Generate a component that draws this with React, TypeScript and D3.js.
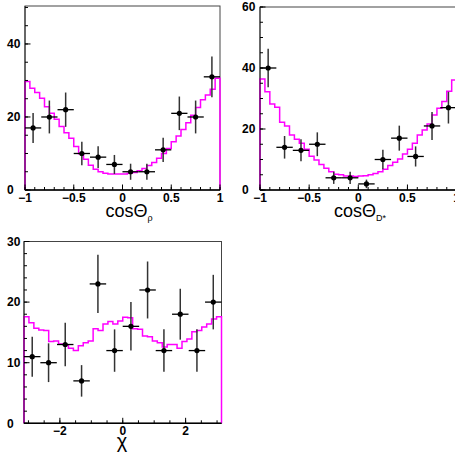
import React from "react";
import * as d3 from "d3";

// ---------- data ----------
const rhoCenters = [-0.917, -0.75, -0.583, -0.417, -0.25, -0.083, 0.083, 0.25, 0.417, 0.583, 0.75, 0.917];
const rhoValues = [17, 20, 22, 10, 9, 7, 5, 5, 11, 21, 20, 31];
const rhoErrors = [4.1, 4.5, 4.7, 3.2, 3.0, 2.6, 2.2, 2.2, 3.3, 4.6, 4.5, 5.6];
const rhoHist = [
  29.7, 27.9, 26.7, 25.1, 22.8, 21.0, 19.4, 17.4, 15.7, 14.2,
  11.9, 9.9, 8.4, 6.8, 5.7, 5.0, 4.6, 4.4, 4.4, 4.4,
  4.4, 4.6, 4.8, 5.3, 5.9, 6.7, 7.5, 8.7, 10.0, 11.4,
  13.2, 14.8, 16.6, 18.4, 20.5, 22.6, 24.7, 26.0, 27.6, 30.6,
];

const dstCenters = [-0.917, -0.75, -0.583, -0.417, -0.25, -0.083, 0.083, 0.25, 0.417, 0.583, 0.75, 0.917];
const dstValues = [40, 14, 13, 15, 4, 4, 2, 10, 17, 11, 21, 27];
const dstErrors = [6.3, 3.7, 3.6, 3.9, 2.0, 2.0, 1.4, 3.2, 4.1, 3.3, 4.6, 5.2];
const dstHist = [
  36.4, 32.2, 28.2, 27.1, 22.2, 21.0, 18.0, 16.6, 15.3, 13.4,
  11.1, 9.8, 8.4, 7.1, 6.0, 5.2, 5.0, 4.6, 4.6, 4.4,
  4.6, 4.7, 5.0, 5.4, 6.0, 6.8, 8.0, 9.1, 10.2, 11.8,
  13.4, 15.3, 18.0, 19.7, 21.6, 24.6, 26.8, 29.0, 32.4, 36.1,
];

const chiCenters = [-2.88, -2.36, -1.83, -1.31, -0.79, -0.26, 0.26, 0.79, 1.31, 1.83, 2.36, 2.88];
const chiValues = [11, 10, 13, 7, 23, 12, 16, 22, 12, 18, 12, 20];
const chiErrors = [3.3, 3.2, 3.6, 2.6, 4.8, 3.5, 4.0, 4.7, 3.5, 4.2, 3.5, 4.5];
const chiHist = [
  17.6, 16.6, 15.7, 15.4, 15.3, 13.5, 13.6, 13.1, 12.9, 12.4,
  12.0, 12.8, 13.3, 13.6, 15.6, 15.3, 16.4, 16.8, 16.4, 16.9,
  17.5, 17.4, 15.6, 15.5, 14.4, 14.3, 13.6, 13.3, 12.6, 13.0,
  13.0, 12.4, 13.5, 13.9, 15.1, 15.3, 15.9, 16.4, 17.2, 17.6,
];

const rhoXTicks = [-1, -0.5, 0, 0.5, 1];
const rhoXTickLabels = ["−1", "−0.5", "0", "0.5", "1"];
const rhoYTicks = [0, 20, 40];
const dstYTicks = [0, 20, 40, 60];
const chiXTicks = [-2, 0, 2];
const chiXTickLabels = ["−2", "0", "2"];
const chiYTicks = [0, 10, 20, 30];

const FONT = "'Liberation Sans', Helvetica, Arial, sans-serif";
const MAGENTA = "#ff00ff";

type PanelProps = {
  left: number; right: number; top: number; bottom: number;
  xDomain: [number, number]; yMax: number;
  centers: number[]; values: number[]; errors: number[]; halfWidth: number;
  hist: number[];
  xTicks: number[]; xTickLabels: string[]; xMinorStep: number;
  yTicks: number[]; yMinorStep: number;
  yLabelX: number;
  title: React.ReactNode;
  titleX: number; titleY: number; titleSize: number;
};

function Panel(p: PanelProps) {
  const x = d3.scaleLinear().domain(p.xDomain).range([p.left, p.right]);
  const y = d3.scaleLinear().domain([0, p.yMax]).range([p.bottom, p.top]);
  const n = p.hist.length;
  const w = (p.xDomain[1] - p.xDomain[0]) / n;
  const pts: [number, number][] = [[p.xDomain[0], 0]];
  p.hist.forEach((v, i) => {
    pts.push([p.xDomain[0] + i * w, v]);
    pts.push([p.xDomain[0] + (i + 1) * w, v]);
  });
  pts.push([p.xDomain[1], 0]);
  const line = d3.line<[number, number]>().x((d) => x(d[0])).y((d) => y(d[1]));
  const histPath = line(pts) || "";

  const eps = 1e-9;
  const xMinor = d3.range(Math.ceil(p.xDomain[0] / p.xMinorStep - eps) * p.xMinorStep, p.xDomain[1] + eps, p.xMinorStep);
  const yMinor = d3.range(0, p.yMax + eps, p.yMinorStep);

  return (
    <g>
      {/* frame */}
      <rect x={p.left} y={p.top} width={p.right - p.left} height={p.bottom - p.top} fill="none" stroke="#444" strokeWidth={1} />
      {/* histogram */}
      <path d={histPath} fill="none" stroke={MAGENTA} strokeWidth={1.5} />
      {/* axes */}
      <line x1={p.left} x2={p.left} y1={p.top} y2={p.bottom} stroke="#000" strokeWidth={1.2} strokeOpacity={0.6} />
      <line x1={p.left} x2={p.right} y1={p.bottom} y2={p.bottom} stroke="#000" strokeWidth={1.5} />
      {xMinor.map((t, i) => (
        <line key={"xm" + i} x1={x(t)} x2={x(t)} y1={p.bottom} y2={p.bottom - 3} stroke="#000" strokeWidth={1} />
      ))}
      {p.xTicks.map((t, i) => (
        <line key={"xM" + i} x1={x(t)} x2={x(t)} y1={p.bottom} y2={p.bottom - 5.5} stroke="#000" strokeWidth={1} />
      ))}
      {yMinor.map((t, i) => (
        <line key={"ym" + i} x1={p.left} x2={p.left + 3} y1={y(t)} y2={y(t)} stroke="#000" strokeWidth={1} />
      ))}
      {p.yTicks.map((t, i) => (
        <line key={"yM" + i} x1={p.left} x2={p.left + 5.5} y1={y(t)} y2={y(t)} stroke="#000" strokeWidth={1} />
      ))}
      {/* tick labels */}
      {p.xTicks.map((t, i) => (
        <text key={"xl" + i} x={x(t)} y={p.bottom + 12} textAnchor="middle" fontFamily={FONT} fontWeight="bold" fontSize={12} fill="#000">
          {p.xTickLabels[i]}
        </text>
      ))}
      {p.yTicks.map((t, i) => (
        <text key={"yl" + i} x={p.yLabelX} y={y(t) + 4.3} textAnchor="start" fontFamily={FONT} fontWeight="bold" fontSize={12} fill="#000">
          {String(t)}
        </text>
      ))}
      {/* data points */}
      {p.centers.map((c, i) => {
        const v = p.values[i];
        const e = p.errors[i];
        return (
          <g key={"pt" + i}>
            <line x1={x(c)} x2={x(c)} y1={y(Math.max(0, v - e))} y2={y(v + e)} stroke="#333" strokeWidth={1.5} />
            <line x1={x(c - p.halfWidth)} x2={x(c + p.halfWidth)} y1={y(v)} y2={y(v)} stroke="#000" strokeWidth={1.3} />
            <circle cx={x(c)} cy={y(v)} r={2.6} fill="#000" />
          </g>
        );
      })}
      <text x={p.titleX} y={p.titleY} textAnchor="middle" fontFamily={FONT} fontSize={p.titleSize} fill="#000">
        {p.title}
      </text>
    </g>
  );
}

export default function App() {
  return (
    <svg width={455} height={459} style={{ position: "absolute", left: 0, top: 0, background: "#fff" }}>
      <rect x={0} y={0} width={455} height={459} fill="#fff" />
      <Panel
        left={25} right={220} top={6} bottom={190}
        xDomain={[-1, 1]} yMax={50.4}
        centers={rhoCenters} values={rhoValues} errors={rhoErrors} halfWidth={1 / 12}
        hist={rhoHist}
        xTicks={rhoXTicks} xTickLabels={rhoXTickLabels} xMinorStep={0.1}
        yTicks={rhoYTicks} yMinorStep={5}
        yLabelX={7}
        title={<>cosΘ<tspan fontSize={9} dy={4}>ρ</tspan></>}
        titleX={129} titleY={217} titleSize={18}
      />
      <Panel
        left={260} right={456.6} top={7} bottom={190}
        xDomain={[-1, 1]} yMax={60}
        centers={dstCenters} values={dstValues} errors={dstErrors} halfWidth={1 / 12}
        hist={dstHist}
        xTicks={rhoXTicks} xTickLabels={rhoXTickLabels} xMinorStep={0.1}
        yTicks={dstYTicks} yMinorStep={5}
        yLabelX={242}
        title={<>cosΘ<tspan fontSize={9} dy={4}>D*</tspan></>}
        titleX={360} titleY={217} titleSize={18}
      />
      <Panel
        left={24} right={221.5} top={241.5} bottom={423.3}
        xDomain={[-Math.PI, Math.PI]} yMax={30}
        centers={chiCenters} values={chiValues} errors={chiErrors} halfWidth={Math.PI / 12}
        hist={chiHist}
        xTicks={chiXTicks} xTickLabels={chiXTickLabels} xMinorStep={0.5}
        yTicks={chiYTicks} yMinorStep={2}
        yLabelX={7}
        title={<>χ</>}
        titleX={122} titleY={448} titleSize={20}
      />
    </svg>
  );
}
